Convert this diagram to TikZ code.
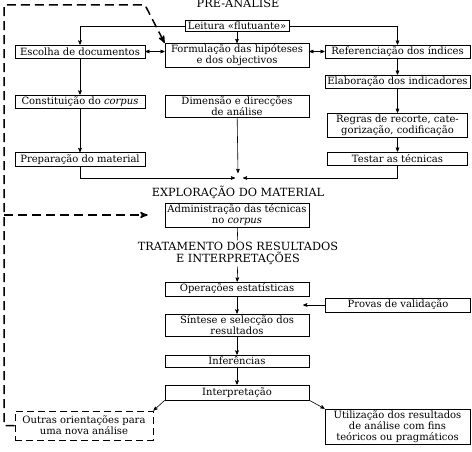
\documentclass[tikz,border=0pt]{standalone}
\usepackage{fontspec}
\setmainfont{DejaVu Serif}
\usetikzlibrary{arrows}

\begin{document}
\begin{tikzpicture}
[->,>=stealth',x=1pt,y=-1pt,node distance=30pt,auto]
  \tikzstyle{every node}=[font=\fontsize{10}{11}\selectfont]
  \tikzstyle{box}=[draw=black,rectangle,align=center,inner xsep=2pt,inner ysep=1.5pt,minimum height=13pt,line width=0.7pt]
  \tikzstyle{lbox}=[box,minimum width=130pt]
  \tikzstyle{mbox}=[box,minimum width=144pt]
  \tikzstyle{rbox}=[box,minimum width=145pt]
  \tikzstyle{obox}=[box,minimum width=138pt,dash pattern=on 7pt off 4pt,line width=0.9pt]
  \tikzstyle{head}=[align=center,inner sep=2pt,font=\fontsize{11.3}{11.5}\selectfont]
  \tikzstyle{feedback}=[dash pattern=on 9pt off 5pt,line width=1.5pt]
  \tikzstyle{link}=[line width=0.6pt]

  \useasboundingbox (0,0) rectangle (472,452);

  % pre-analise
  \node[head,anchor=base] (pran) at (238,8) {PRÉ-ANÁLISE};
  \node[box,minimum width=104pt,minimum height=11pt,inner ysep=0.5pt] (lei) at (237,26) {Leitura «flutuante»};
  \node[mbox] (form) [below of=lei,node distance=29.5pt] {Formulação das hipóteses\\e dos objectivos};
  \node[lbox] (esc) [left of=form,node distance=157pt,yshift=4pt] {Escolha de documentos};
  \node[rbox] (ref) [right of=form,node distance=160.5pt,yshift=4pt] {Referenciação dos índices};
  \node[rbox] (ela) [below of=ref,node distance=30pt] {Elaboração dos indicadores};
  \node[box,minimum width=140pt] (reg) [below of=ela,node distance=43.5pt] {Regras de recorte, cate-\\gorização, codificação};
  \node[box,minimum width=140pt] (tes) [below of=reg,node distance=33.5pt] {Testar as técnicas};
  \node[lbox] (con) [below of=esc,node distance=50pt] {Constituição do \textit{corpus}};
  \node[lbox,minimum height=14pt] (prep) [below of=con,node distance=58pt] {Preparação do material};
  \node[mbox] (dim) [below of=form,node distance=51pt] {Dimensão e direcções\\de análise};
  \coordinate (meet) at (238,178);

  % exploracao
  \node[head] (expl) at (238,192) {EXPLORAÇÃO DO MATERIAL};
  \node[mbox] (adm) [below of=expl,node distance=23pt,xshift=-1pt] {Administração das técnicas\\no \textit{corpus}};

  % tratamento
  \node[head] (trat) [below of=adm,node distance=38.5pt,xshift=1pt] {TRATAMENTO DOS RESULTADOS\\E INTERPRETAÇÕES};
  \node[mbox,minimum height=14pt] (ope) [below of=trat,node distance=35.5pt,xshift=-1pt] {Operações estatísticas};
  \node[mbox] (sin) [below of=ope,node distance=36pt] {Síntese e selecção dos\\resultados};
  \node[rbox,minimum height=14pt] (pro) [right of=ope,node distance=161pt,yshift=-16pt] {Provas de validação};
  \node[mbox,minimum height=12pt] (inf) [below of=sin,node distance=36pt] {Inferências};
  \node[mbox,minimum height=15pt] (int) [below of=inf,node distance=31.5pt] {Interpretação};
  \node[obox,minimum height=29pt] (out) [left of=int,node distance=153pt,yshift=-33pt] {Outras orientações para\\uma nova análise};
  \node[rbox] (uti) [right of=int,node distance=160.5pt,yshift=-34pt] {Utilização dos resultados\\de análise com fins\\teóricos ou pragmáticos};

  % feedback loop
  \coordinate (corner) at (4,5);
  \coordinate (bend) at (145,5);
  \coordinate (fork) at (4,215);
  \path (adm.west) ++(-17pt,0) coordinate (admin);
  \path (pro.west) ++(-22pt,0) coordinate (valend);

  \draw[link] (lei.west) -| (esc.north);
  \draw[link] (lei.east) -| (ref.north);
  \draw[link,<->] (esc.east) -- (esc.east -| form.west);
  \draw[link,<->] (ref.west -| form.east) -- (ref.west);
  \path[link] (lei) edge (form)
              (esc) edge (con)
              (con) edge (prep)
              (ref) edge (ela)
              (ela) edge (reg)
              (reg) edge (tes)
              (ope) edge (sin)
              (sin) edge (inf)
              (inf) edge (int)
              (trat) edge (ope)
              (pro.west) edge (valend)
              (int.south west) edge (out.north east)
              (int.south east) edge (uti.north west);
  \draw[link] (prep) |- ([xshift=-3pt]meet);
  \draw[link] (tes) |- ([xshift=5pt]meet);
  \draw[link] (dim) -- ([yshift=5pt]meet);
  \draw[link,-] (adm) -- (trat);

  \draw[feedback] (out.west) -| (corner) -- (bend) -- (form.north west);
  \draw[feedback] (fork) -- (admin);
\end{tikzpicture}
\end{document}
